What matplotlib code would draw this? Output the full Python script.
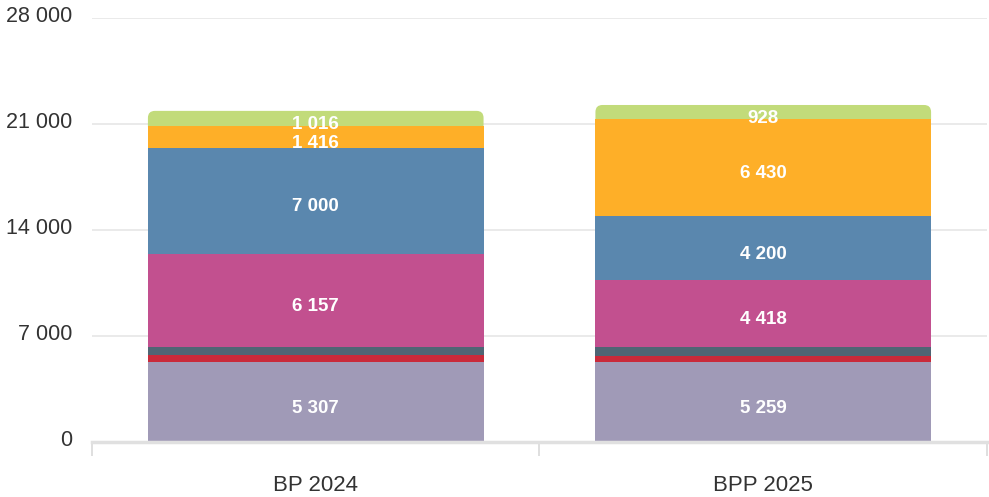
import matplotlib.pyplot as plt
import matplotlib.transforms as mtransforms
import numpy as np
from matplotlib.patches import FancyBboxPatch

plt.rcParams['font.family'] = ['Liberation Sans', 'DejaVu Sans']

categories = ['BP 2024', 'BPP 2025']
# segments from bottom to top
seg_purple = [5307, 5259]
seg_red = [420, 450]
seg_grey = [550, 570]
seg_magenta = [6157, 4418]
seg_blue = [7000, 4200]
seg_orange = [1416, 6430]
seg_green = [1016, 928]

series = [seg_purple, seg_red, seg_grey, seg_magenta, seg_blue, seg_orange, seg_green]
colors = ['#a09ab7', '#c92a3a', '#4f6574', '#c2508f', '#5a87ae', '#feaf28', '#c2db7a']
show_label = [True, False, False, True, True, True, True]

yticks = [0, 7000, 14000, 21000, 28000]

def fmt(v):
    return f"{v:,}".replace(",", " ")

fig = plt.figure(figsize=(9.89, 4.97), dpi=100)
ax = fig.add_axes([0.093, 0.1107, 0.905, 0.8531])

x = np.arange(len(categories))
width = 0.75
bottom = np.zeros(len(categories))

ax.set_xlim(-0.5, 1.5)
ax.set_ylim(0, 28000)

# pixel sizes in data units, for the rounded top
px_x = 2.0 / (0.905 * 989)
px_y = 28000 / (0.8531 * 497)

# labels sit a little below the segment centre
lbl_tr = mtransforms.offset_copy(ax.transData, fig=fig, x=0, y=-4.5, units='points')

for i, (vals, col) in enumerate(zip(series, colors)):
    vals = np.array(vals, dtype=float)
    if i == len(series) - 1:
        # top segment with rounded top corners
        r = 7 * px_y
        for j in range(len(x)):
            p = FancyBboxPatch((x[j] - width / 2, bottom[j] - r), width, vals[j] + r,
                               boxstyle="round,pad=0,rounding_size=%f" % (7 * px_x),
                               mutation_aspect=px_y / px_x,
                               facecolor=col, edgecolor='none', zorder=2)
            ax.add_patch(p)
    else:
        ax.bar(x, vals, width, bottom=bottom, color=col, edgecolor='none', zorder=3)
    if show_label[i]:
        for j in range(len(x)):
            ax.text(x[j], bottom[j] + vals[j] / 2, fmt(int(vals[j])), ha='center',
                    va='center', color='white', fontsize=13.5,
                    fontweight='bold', zorder=5, transform=lbl_tr)
    bottom += vals

ax.set_yticks(yticks)
ax.set_yticklabels([fmt(v) for v in yticks], fontsize=15.5, color='#333333')
ax.grid(axis='y', color='#e6e6e6', linewidth=1.2, zorder=0)
ax.tick_params(axis='y', length=0, pad=14)
shift = mtransforms.ScaledTranslation(0, 3 / 72, fig.dpi_scale_trans)
for t in ax.get_yticklabels():
    t.set_transform(t.get_transform() + shift)

ax.set_xticks([-0.5, 0.5, 1.5])
ax.set_xticklabels([])
ax.tick_params(axis='x', length=10, color='#d9d9d9', width=1.2)
for j, c in enumerate(categories):
    ax.text(x[j], -0.102, c, transform=ax.get_xaxis_transform(), ha='center',
            va='center', fontsize=16, color='#333333')

for s in ['top', 'right', 'left']:
    ax.spines[s].set_visible(False)
ax.spines['bottom'].set_color('#e0e0e0')
ax.spines['bottom'].set_linewidth(2.5)
ax.spines['bottom'].set_zorder(4)

fig.savefig('out.png', dpi=100)
